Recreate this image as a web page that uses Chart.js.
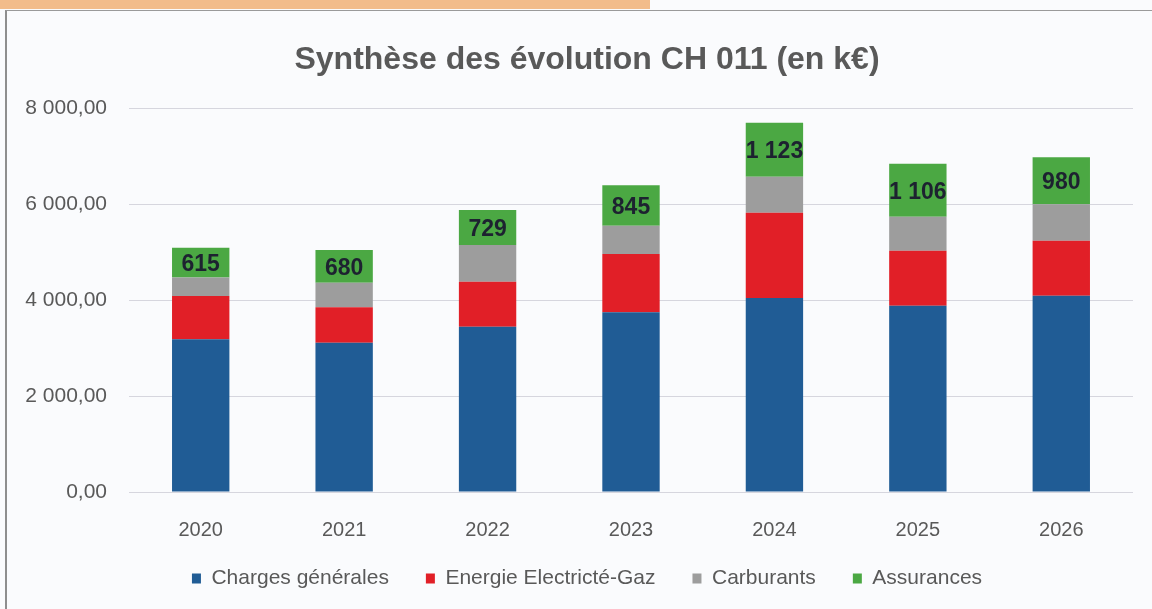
<!DOCTYPE html>
<html>
<head>
<meta charset="utf-8">
<script src="https://cdn.jsdelivr.net/npm/chart.js@4/dist/chart.umd.min.js"></script>
<style>
  html, body { margin: 0; padding: 0; background: #fafbfd; overflow: hidden; }
  #wrap { position: relative; width: 1152px; height: 609px; }
  #band { position: absolute; left: 0; top: 0; width: 650px; height: 9px; background: #f2bc8b; }
  #frame { position: absolute; left: 5px; top: 10px; width: 1200px; height: 700px; border-left: 2px solid #8e8e8e; border-top: 1px solid #9a9a9a; }
  canvas { position: absolute; left: 0; top: 0; }
</style>
</head>
<body>
<div id="wrap">
  <div id="band"></div>
  <div id="frame"></div>
  <canvas id="c" width="1152" height="609"></canvas>
</div>
<script>
const categories = ["2020", "2021", "2022", "2023", "2024", "2025", "2026"];
const chargesGenerales = [3181, 3110, 3444, 3743, 4042, 3881, 4090];
const energie = [900, 738, 938, 1215, 1777, 1146, 1145];
const carburants = [390, 512, 764, 590, 750, 708, 759];
const assurances = [615, 680, 729, 845, 1123, 1106, 980];
const seriesNames = ["Charges générales", "Energie Electricté-Gaz", "Carburants", "Assurances"];
const chartTitle = "Synthèse des évolution CH 011 (en k€)";

function groupThousands(n) {
  return String(n).replace(/\B(?=(\d{3})+(?!\d))/g, " ");
}
function fmtAxis(v) {
  const s = Number(v).toFixed(2).split(".");
  return groupThousands(s[0]) + "," + s[1];
}

const labelPlugin = {
  id: "segLabels",
  afterLayout(chart) {
    // let tick labels use the space outside their fitted boxes (avoid clipping)
    chart.scales.y.left = 0;
    chart.scales.x.bottom = chart.scales.x.top + 60;
  },
  afterDatasetsDraw(chart) {
    const ctx = chart.ctx;
    const idx = 3;
    const meta = chart.getDatasetMeta(idx);
    const data = chart.data.datasets[idx].data;
    ctx.save();
    ctx.font = "bold 23px 'Liberation Sans', Arial, sans-serif";
    ctx.fillStyle = "#1d2230";
    ctx.textAlign = "center";
    ctx.textBaseline = "middle";
    meta.data.forEach((el, i) => {
      const y = (el.y + el.base) / 2;
      ctx.fillText(groupThousands(data[i]), el.x, y + 2);
    });
    ctx.restore();
  }
};

new Chart(document.getElementById("c"), {
  type: "bar",
  data: {
    labels: categories,
    datasets: [
      { label: seriesNames[0], data: chargesGenerales, backgroundColor: "#205c95" },
      { label: seriesNames[1], data: energie, backgroundColor: "#e11f27" },
      { label: seriesNames[2], data: carburants, backgroundColor: "#9d9d9d" },
      { label: seriesNames[3], data: assurances, backgroundColor: "#4ba843" }
    ]
  },
  options: {
    responsive: false,
    animation: false,
    devicePixelRatio: 1,
    layout: { padding: { left: 41, right: 19, top: 11, bottom: 10 } },
    datasets: { bar: { categoryPercentage: 1, barPercentage: 0.4, borderWidth: 0 } },
    plugins: {
      title: {
        display: true,
        text: chartTitle,
        color: "#595959",
        font: { family: "'Liberation Sans', Arial, sans-serif", size: 32, weight: "bold" },
        padding: { top: 30, bottom: 28.6 }
      },
      legend: {
        position: "bottom",
        labels: {
          color: "#595959",
          font: { family: "'Liberation Sans', Arial, sans-serif", size: 21 },
          boxWidth: 9,
          boxHeight: 10,
          padding: 37
        }
      },
      tooltip: { enabled: false }
    },
    scales: {
      x: {
        stacked: true,
        grid: { display: false },
        border: { display: false },
        ticks: {
          color: "#595959",
          font: { family: "'Liberation Sans', Arial, sans-serif", size: 20 },
          padding: 18,
          maxRotation: 0
        },
        afterFit(scale) { scale.height = 39; }
      },
      y: {
        stacked: true,
        min: 0,
        max: 8000,
        grid: { color: "#d6d6de", lineWidth: 1, drawTicks: false },
        border: { display: false },
        ticks: {
          stepSize: 2000,
          color: "#595959",
          font: { family: "'Liberation Sans', Arial, sans-serif", size: 21 },
          padding: 22,
          callback: (v) => fmtAxis(v)
        },
        afterFit(scale) { scale.width = 88; }
      }
    }
  },
  plugins: [labelPlugin]
});
</script>
</body>
</html>
